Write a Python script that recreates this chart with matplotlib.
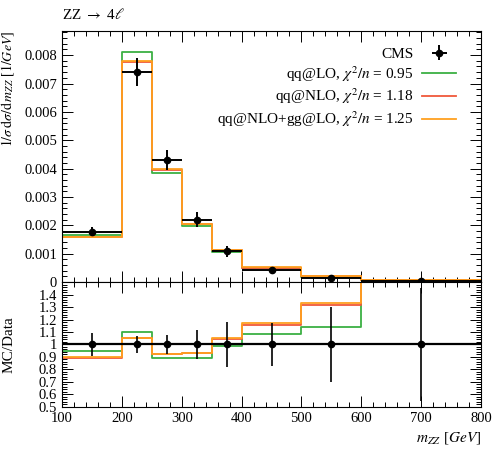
import matplotlib

matplotlib.use("Agg")
import matplotlib.pyplot as plt
import numpy as np
from matplotlib.ticker import MultipleLocator, FixedLocator

plt.rcParams["font.family"] = ["Liberation Serif", "DejaVu Serif"]
plt.rcParams["mathtext.fontset"] = "stix"

# bin edges of m_ZZ [GeV]
edges = [100, 200, 250, 300, 350, 400, 500, 600, 800]

# CMS data, 1/sigma dsigma/dm_ZZ [1/GeV]
data_vals = [0.00178, 0.00740, 0.00430, 0.00220, 0.00108, 0.00044, 0.00015, 0.00004]
data_errs = [0.000165, 0.00049, 0.00034, 0.00026, 0.00020, 0.000077, 0.000045, 0.000018]

# MC predictions (main panel)
lo_vals = [0.00165, 0.00812, 0.00383, 0.00196, 0.00107, 0.00048, 0.00017, 0.00007]
nlo_vals = [0.00159, 0.00777, 0.00396, 0.00204, 0.00112, 0.00051, 0.00020, 0.00007]
nlogg_vals = [0.00160, 0.00778, 0.00398, 0.00205, 0.00114, 0.00052, 0.00020, 0.00007]

# MC / Data ratios (lower panel)
lo_ratio = [0.95, 1.10, 0.89, 0.89, 0.99, 1.085, 1.14, 1.60]
nlo_ratio = [0.895, 1.05, 0.92, 0.93, 1.04, 1.16, 1.32, 1.65]
nlogg_ratio = [0.90, 1.055, 0.925, 0.935, 1.05, 1.17, 1.33, 1.66]
data_rel_errs = [0.093, 0.066, 0.08, 0.12, 0.18, 0.175, 0.30, 0.45]

labels = ["CMS",
          r"qq@LO, $\chi^2/n$ = 0.95",
          r"qq@NLO, $\chi^2/n$ = 1.18",
          r"qq@NLO+gg@LO, $\chi^2/n$ = 1.25"]
colors = ["#3cb043", "#f0583a", "#ffa020"]

edges = np.asarray(edges, dtype=float)
centers = 0.5 * (edges[:-1] + edges[1:])
halfw = 0.5 * (edges[1:] - edges[:-1])

fig = plt.figure(figsize=(4.98, 4.50), dpi=100)
ax = fig.add_axes([0.1245, 0.3733, 0.8414, 0.5577])
rax = fig.add_axes([0.1245, 0.0956, 0.8414, 0.2777], sharex=ax)


def step(a, vals, color, label=None):
    y = np.append(vals, vals[-1])
    return a.step(edges, y, where="post", color=color, lw=1.3, label=label)[0]


h_data = ax.errorbar(centers, data_vals, xerr=halfw, yerr=data_errs, fmt="o", color="black",
                     ms=4.5, elinewidth=1.4, capsize=0, zorder=5, label=labels[0])
handles = [h_data]
for vals, col, lab in zip([lo_vals, nlo_vals, nlogg_vals], colors, labels[1:]):
    handles.append(step(ax, vals, col, lab))

rax.axhline(1.0, color="black", lw=1.6, zorder=4)
rax.errorbar(centers, np.ones(len(centers)), yerr=data_rel_errs, fmt="o", color="black",
             ms=4.5, elinewidth=1.2, capsize=0, zorder=5)
for vals, col in zip([lo_ratio, nlo_ratio, nlogg_ratio], colors):
    step(rax, vals, col)

ax.set_xlim(100, 800)
ax.set_ylim(0, 0.00885)
rax.set_ylim(0.5, 1.5)

for a in (ax, rax):
    a.xaxis.set_major_locator(MultipleLocator(100))
    a.xaxis.set_minor_locator(MultipleLocator(20))
    a.tick_params(which="both", direction="in", top=True, right=True, labelsize=10.5, width=0.7)
    a.tick_params(which="major", length=8)
    a.tick_params(which="minor", length=3.5)
    for s in a.spines.values():
        s.set_linewidth(0.8)

ax.yaxis.set_major_locator(MultipleLocator(0.001))
ax.yaxis.set_minor_locator(MultipleLocator(0.0002))
ax.yaxis.set_major_formatter(matplotlib.ticker.FuncFormatter(lambda v, p: "0" if v == 0 else f"{v:.3f}"))
plt.setp(ax.get_xticklabels(), visible=False)

rax.yaxis.set_major_locator(FixedLocator(np.round(np.arange(0.5, 1.45, 0.1), 2)))
rax.yaxis.set_minor_locator(MultipleLocator(0.02))
rax.yaxis.set_major_formatter(matplotlib.ticker.FuncFormatter(lambda v, p: f"{v:g}"))

ax.set_ylabel(r"$1/\sigma\,\mathrm{d}\sigma/\mathrm{d}\,m_{ZZ}$ [$1/GeV$]", fontsize=10, loc="top")
rax.set_ylabel("MC/Data", fontsize=11)
rax.set_xlabel(r"$m_{ZZ}$ [$GeV$]", fontsize=11, loc="right")
ax.yaxis.set_label_coords(-0.11, 1.0)
rax.yaxis.set_label_coords(-0.11, 0.5)

fig.text(0.1245, 0.967, r"ZZ $\rightarrow$ 4$\ell$", fontsize=11, ha="left", va="center")

ax.legend(handles=handles, loc="upper right", bbox_to_anchor=(0.955, 0.96), frameon=False,
          markerfirst=False, fontsize=11, handlelength=2.2, handletextpad=0.6,
          labelspacing=0.2, borderaxespad=0)

fig.savefig("out.png")
